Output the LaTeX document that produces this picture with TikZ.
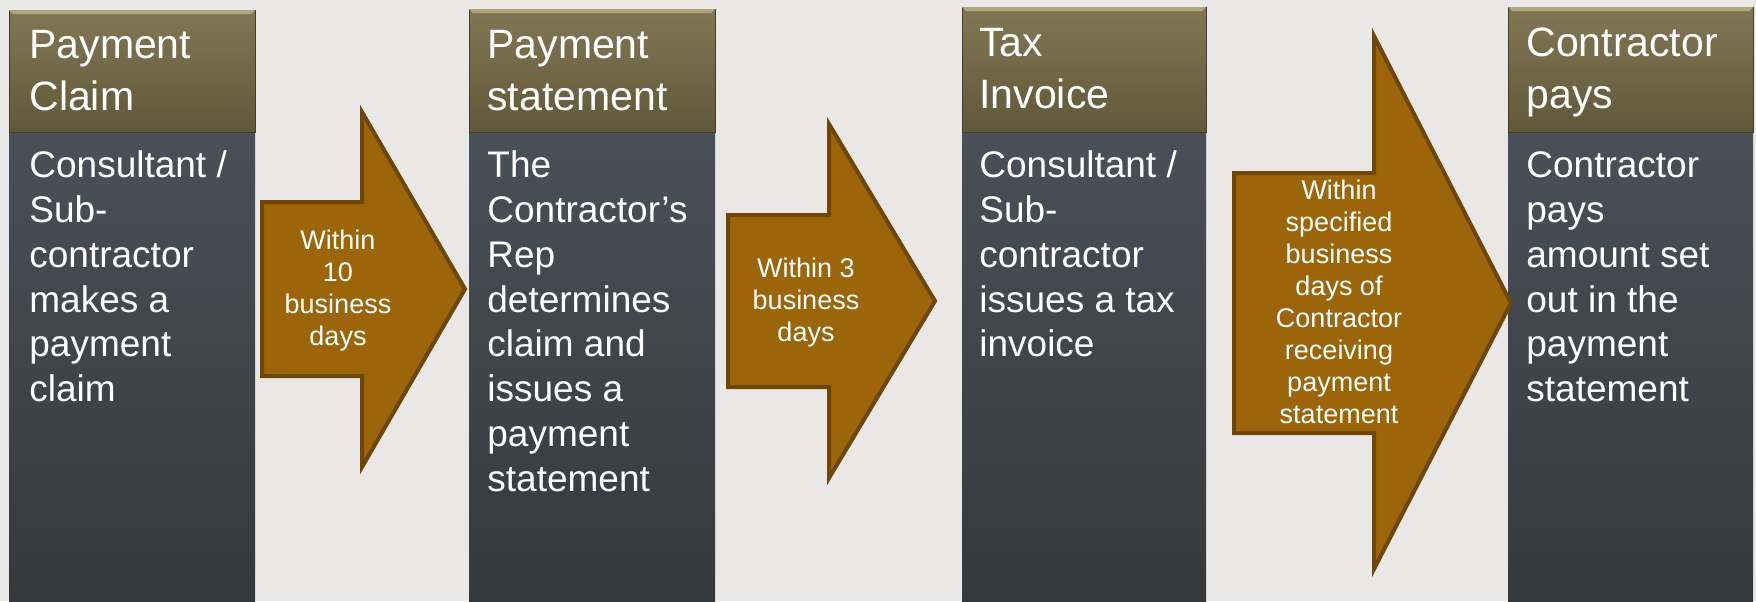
\documentclass[tikz,border=0pt]{standalone}
\usepackage{fontspec}
\setmainfont{Liberation Sans}
\usetikzlibrary{shadings}
\definecolor{bgcol}{RGB}{234,232,230}
\definecolor{hdrtop}{RGB}{130,119,84}
\definecolor{hdrbot}{RGB}{97,88,58}
\definecolor{hdrlite}{RGB}{176,166,126}
\definecolor{bodytop}{RGB}{74,80,88}
\definecolor{bodybot}{RGB}{53,57,62}
\definecolor{arrfill}{RGB}{156,101,10}
\definecolor{arrline}{RGB}{112,70,4}
\tikzset{
  hdrbox/.style={top color=hdrtop, bottom color=hdrbot, draw=hdrbot!70!black, line width=0.4pt},
  bodybox/.style={top color=bodytop, bottom color=bodybot},
  arrshape/.style={fill=arrfill, draw=arrline, line width=2pt, line join=miter},
  hdrtxt/.style={anchor=north west, inner sep=0pt, align=left, text=white, font=\fontsize{20.5}{26}\selectfont},
  bodytxt/.style={anchor=north west, inner sep=0pt, align=left, text=white, font=\fontsize{18.5}{22.4}\selectfont},
  arrtxt/.style={inner sep=0pt, align=center, text=white, font=\fontsize{13.5}{16}\selectfont}
}
\begin{document}
\begin{tikzpicture}[x=0.5pt,y=-0.5pt]
\fill[bgcol] (0,0) rectangle (1756,601);
\useasboundingbox (0,0) rectangle (1756,601);
%columns
\path[bodybox] (9,132) rectangle (255,601);
\path[bodybox] (469,132) rectangle (715,601);
\path[bodybox] (962,132) rectangle (1206,601);
\path[bodybox] (1508,132) rectangle (1753,601);
\draw[hdrbox] (9,10) rectangle (255,132);
\draw[hdrbox] (469,9) rectangle (715,132);
\draw[hdrbox] (962,7) rectangle (1206,132);
\draw[hdrbox] (1508,7) rectangle (1753,132);
\fill[hdrlite] (9,10) -- (255,10) -- (251,14) -- (13,14) -- cycle;
\fill[hdrlite] (469,9) -- (715,9) -- (711,13) -- (473,13) -- cycle;
\fill[hdrlite] (962,7) -- (1206,7) -- (1202,11) -- (966,11) -- cycle;
\fill[hdrlite] (1508,7) -- (1753,7) -- (1749,11) -- (1512,11) -- cycle;
%arrows
\draw[arrshape] (262,202) -- (362,202) -- (362,112) -- (465,289) -- (362,467) -- (362,376) -- (262,376) -- cycle;
\draw[arrshape] (728,215) -- (829,215) -- (829,124) -- (935,301) -- (829,478) -- (829,387) -- (728,387) -- cycle;
\draw[arrshape] (1234,173) -- (1374,173) -- (1374,36) -- (1511,303) -- (1374,569) -- (1374,433) -- (1234,433) -- cycle;
%headers
\node[hdrtxt] (hdrclaim) at (29,22) {\strut Payment\\Claim};
\node[hdrtxt] (hdrstmt) at (487,22) {\strut Payment\\statement};
\node[hdrtxt] (hdrinv) at (979,20) {\strut Tax\\Invoice};
\node[hdrtxt] (hdrpays) at (1526,20) {\strut Contractor\\pays};
%bodies
\node[bodytxt] (bodyclaim) at (29,146) {\strut Consultant /\\Sub-\\contractor\\makes a\\payment\\claim};
\node[bodytxt] (bodystmt) at (487,146) {\strut The\\Contractor's\\Rep\\determines\\claim and\\issues a\\payment\\statement};
\node[bodytxt] (bodyinv) at (979,146) {\strut Consultant /\\Sub-\\contractor\\issues a tax\\invoice};
\node[bodytxt] (bodypays) at (1526,146) {\strut Contractor\\pays\\amount set\\out in the\\payment\\statement};
%arrow labels
\node[arrtxt] (daysten) at (338,291) {Within\\10\\business\\days};
\node[arrtxt] (daysthree) at (806,303) {Within 3\\business\\days};
\node[arrtxt] (daysspec) at (1339,302) {Within\\specified\\business\\days of\\Contractor\\receiving\\payment\\statement};
\end{tikzpicture}
\end{document}
